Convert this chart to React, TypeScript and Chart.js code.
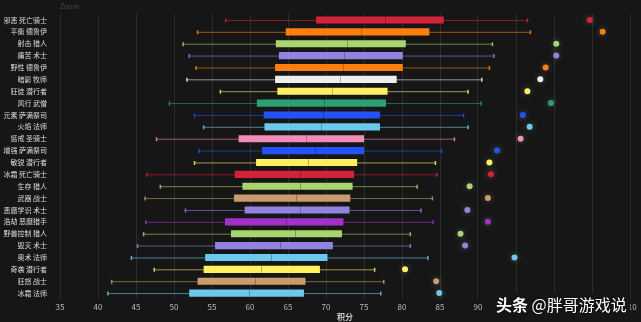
import React, { useEffect, useRef } from "react";
import { Chart, registerables } from "chart.js";

Chart.register(...registerables);

const categories = [
  "邪恶 死亡骑士", "平衡 德鲁伊", "射击 猎人", "痛苦 术士", "野性 德鲁伊", "暗影 牧师",
  "狂徒 潜行者", "风行 武僧", "元素 萨满祭司", "火焰 法师", "惩戒 圣骑士", "增强 萨满祭司",
  "敏锐 潜行者", "冰霜 死亡骑士", "生存 猎人", "武器 战士", "恶魔学识 术士", "浩劫 恶魔猎手",
  "野兽控制 猎人", "毁灭 术士", "奥术 法师", "奇袭 潜行者", "狂怒 战士", "冰霜 法师",
];
const mins = [56.8, 53.1, 51.2, 52.0, 52.9, 51.7, 56.1, 49.4, 52.7, 53.9, 47.7, 53.3, 52.7, 46.4, 48.2, 46.2, 51.5, 46.3, 46.0, 45.2, 44.4, 47.4, 41.8, 41.3];
const q1s = [68.7, 64.7, 63.4, 63.8, 63.3, 63.3, 63.6, 60.9, 61.8, 61.9, 58.5, 61.6, 60.8, 58.0, 59.0, 57.9, 59.3, 56.7, 57.5, 55.4, 54.1, 53.9, 53.1, 52.0];
const medians = [77.8, 74.6, 72.7, 72.4, 72.3, 71.8, 70.8, 69.8, 69.6, 69.4, 67.4, 68.6, 67.6, 66.6, 66.6, 66.0, 66.6, 64.7, 65.9, 63.9, 62.8, 61.5, 60.6, 59.9];
const q3s = [85.5, 83.6, 80.5, 80.1, 80.1, 79.3, 78.1, 77.9, 77.1, 77.1, 75.0, 75.0, 74.1, 73.7, 73.5, 73.2, 73.1, 72.3, 72.1, 70.9, 70.2, 69.2, 67.3, 67.1];
const maxs = [96.5, 96.9, 91.9, 92.1, 91.5, 90.5, 88.7, 90.4, 88.1, 88.7, 86.9, 85.2, 84.4, 84.6, 82.0, 84.0, 82.5, 84.1, 81.1, 81.1, 83.4, 76.4, 77.6, 77.2];
const outliers = [104.7, 106.4, 100.3, 100.3, 98.9, 98.2, 96.5, 99.6, 95.9, 96.8, 95.6, 92.5, 91.5, 91.7, 88.9, 91.3, 88.6, 91.3, 87.7, 88.3, 94.8, 80.4, 84.5, 84.9];
const colors = [
  "#d42238", "#ff7f0e", "#a8d56e", "#9184e0", "#ff7f0e", "#eeeeee",
  "#fff060", "#2e9f72", "#2352f5", "#6cc8ec", "#f48cba", "#2352f5",
  "#fff060", "#d42238", "#a8d56e", "#c99b6d", "#9184e0", "#a330c9",
  "#a8d56e", "#9184e0", "#6cc8ec", "#fff060", "#c99b6d", "#6cc8ec",
];
const xTicks = [35, 40, 45, 50, 55, 60, 65, 70, 75, 80, 85, 90, 95, 100, 105, 110];

function withAlpha(hex: string, a: number) {
  const r = parseInt(hex.slice(1, 3), 16);
  const g = parseInt(hex.slice(3, 5), 16);
  const b = parseInt(hex.slice(5, 7), 16);
  return `rgba(${r},${g},${b},${a})`;
}

const boxPlugin = {
  id: "boxParts",
  beforeDatasetsDraw(chart: any) {
    const { ctx, scales } = chart;
    const xs = scales.x;
    const ys = scales.y;
    ctx.save();
    categories.forEach((_, i) => {
      const y = ys.getPixelForValue(i);
      const xMin = xs.getPixelForValue(mins[i]);
      const xMax = xs.getPixelForValue(maxs[i]);
      ctx.strokeStyle = withAlpha(colors[i], 0.6);
      ctx.lineWidth = 1;
      ctx.beginPath();
      ctx.moveTo(xMin, y + 0.5);
      ctx.lineTo(xMax, y + 0.5);
      ctx.stroke();
      ctx.strokeStyle = withAlpha(colors[i], 0.85);
      ctx.lineWidth = 1.5;
      ctx.beginPath();
      ctx.moveTo(xMin, y - 1.5);
      ctx.lineTo(xMin, y + 2.5);
      ctx.moveTo(xMax, y - 1.5);
      ctx.lineTo(xMax, y + 2.5);
      ctx.stroke();
    });
    ctx.restore();
  },
  afterDatasetsDraw(chart: any) {
    const { ctx, scales } = chart;
    const xs = scales.x;
    const ys = scales.y;
    const meta = chart.getDatasetMeta(0);
    ctx.save();
    categories.forEach((_, i) => {
      const bar = meta.data[i];
      const h = bar ? bar.height : 7;
      const y = ys.getPixelForValue(i);
      const xm = Math.round(xs.getPixelForValue(medians[i])) + 0.5;
      ctx.strokeStyle = "rgba(0,0,0,0.25)";
      ctx.lineWidth = 1;
      ctx.beginPath();
      ctx.moveTo(xm, y - h / 2);
      ctx.lineTo(xm, y + h / 2);
      ctx.stroke();
    });
    ctx.restore();
  },
  beforeDatasetDraw(chart: any, args: any) {
    if (args.index === 1) {
      chart.ctx.save();
      chart.ctx.shadowBlur = 6;
      chart.ctx.shadowColor = "rgba(255,255,255,0.25)";
    }
  },
  afterDatasetDraw(chart: any, args: any) {
    if (args.index === 1) chart.ctx.restore();
  },
};

export default function App() {
  const ref = useRef<HTMLCanvasElement>(null);
  useEffect(() => {
    document.body.style.margin = "0";
    document.body.style.background = "#161616";
    const chart = new Chart(ref.current!, {
      type: "bar",
      data: {
        labels: categories,
        datasets: [
          {
            type: "bar",
            data: categories.map((_, i) => [q1s[i], q3s[i]]) as any,
            backgroundColor: colors,
            borderWidth: 0,
            barPercentage: 0.6,
            categoryPercentage: 1,
            order: 2,
          },
          {
            type: "line",
            data: categories.map((c, i) => ({ x: outliers[i], y: c })) as any,
            showLine: false,
            pointRadius: 3,
            pointBackgroundColor: colors,
            pointBorderWidth: 0,
            order: 1,
          } as any,
        ],
      },
      options: {
        indexAxis: "y",
        responsive: false,
        animation: false,
        events: [],
        layout: { padding: { top: 14, right: 11, left: 0, bottom: 0 } },
        plugins: { legend: { display: false }, tooltip: { enabled: false } },
        scales: {
          x: {
            type: "linear",
            min: 35,
            max: 110,
            afterBuildTicks: (s: any) => {
              s.ticks = xTicks.map((v) => ({ value: v }));
            },
            afterFit: (s: any) => {
              s.height = 23;
            },
            grid: { color: "#2c2c2c", lineWidth: 1, drawTicks: false },
            border: { display: false },
            ticks: {
              color: "#bbbbbb",
              font: { size: 8, family: "Noto Sans CJK SC" },
              padding: 3,
            },
            title: {
              display: true,
              text: "积分",
              color: "#cccccc",
              font: { size: 8, family: "Noto Sans CJK SC", weight: "bold" },
              padding: 0,
            },
          },
          y: {
            type: "category",
            afterFit: (s: any) => {
              s.width = 60;
            },
            grid: { display: false },
            border: { display: false },
            ticks: {
              color: "#dddddd",
              font: { size: 7, family: "Noto Sans CJK SC" },
              padding: 5,
              autoSkip: false,
            },
          },
        },
      } as any,
      plugins: [boxPlugin],
    });
    return () => chart.destroy();
  }, []);

  return (
    <div style={{ position: "relative", width: 641, height: 322, background: "#161616" }}>
      <canvas ref={ref} width={641} height={322} style={{ display: "block" }} />
      <div
        style={{
          position: "absolute",
          left: 60,
          top: 0,
          fontFamily: "Noto Sans CJK SC",
          fontSize: 7,
          color: "#4a4a4a",
          lineHeight: "12px",
        }}
      >
        Zoom
      </div>
      <div
        style={{
          position: "absolute",
          left: 496,
          top: 293,
          height: 22,
          width: 134,
          background: "#161616",
          fontFamily: "Noto Sans CJK SC",
          fontSize: 16,
          lineHeight: "22px",
          color: "#ffffff",
          whiteSpace: "nowrap",
          textShadow: "0 0 2px rgba(0,0,0,0.8)",
        }}
      >
        <span style={{ fontWeight: "bold" }}>头条</span> @胖哥游戏说
      </div>
    </div>
  );
}
